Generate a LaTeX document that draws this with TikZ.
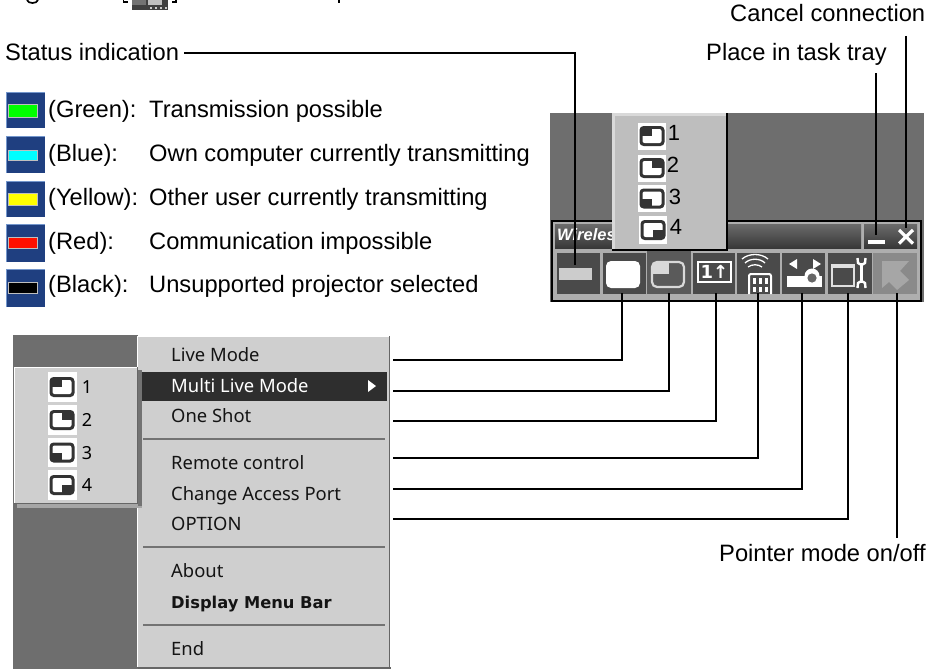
\documentclass[tikz,border=0pt]{standalone}
\usepackage{fontspec}
\setmainfont{Liberation Sans}
\newfontfamily\menufont{Noto Sans}
\newfontfamily\glyphfont{DejaVu Sans}
\definecolor{bgdark}{HTML}{6E6E6E}
\definecolor{swblue}{HTML}{1F3F80}
\definecolor{swedge}{HTML}{7396CC}
\definecolor{menubg}{HTML}{CFCFCF}
\definecolor{popbg}{HTML}{BEBEBE}
\definecolor{btndark}{HTML}{4A4A4A}
\definecolor{btnmid}{HTML}{5A5A5A}
\definecolor{btnlight}{HTML}{8A8A8A}
\definecolor{barbg}{HTML}{AEAEAE}
\definecolor{icdark}{HTML}{333333}
\definecolor{barcyan}{HTML}{00FFFF}
\definecolor{bargreen}{HTML}{00FF00}
\definecolor{baryellow}{HTML}{FFFF00}
\definecolor{barred}{HTML}{FF1000}
\tikzset{
  lbl/.style={anchor=base west,inner sep=0pt,font=\fontsize{23.7}{26}\selectfont},
  menuitem/.style={anchor=base west,inner sep=0pt,font=\menufont\fontsize{18.4}{22}\selectfont,text=black!92},
  popnum/.style={anchor=center,inner sep=0pt,font=\fontsize{22}{24}\selectfont},
  subnum/.style={anchor=center,inner sep=0pt,font=\menufont\fontsize{18}{22}\selectfont},
  wire/.style={draw=black,line width=2pt,line join=miter},
  sep/.style={draw=black!55,line width=1.4pt},
  btn/.style={fill=btndark,draw=none}
}
\newcommand{\qicon}[6]{% cx cy bghalfw bghalfh quadrant(xsign ysign)
  \fill[white] (#1-#3,#2-#4) rectangle (#1+#3,#2+#4);
  \fill[icdark,rounded corners=4pt] (#1-12.5,#2-10) rectangle (#1+12.5,#2+10);
  \fill[white,rounded corners=2pt] (#1-9.5,#2-7) rectangle (#1+9.5,#2+7);
  \fill[icdark] (#1,#2) rectangle (#1+#5*11,#2+#6*8.5);
}
\newcommand{\swatch}[5]{% top bottom bartop barbottom colour
  \fill[swblue] (6,#1) rectangle (45,#2);
  \draw[swedge,line width=1.2pt] (6.6,#2) -- (6.6,#1+.6) -- (45,#1+.6);
  \fill[white!75!black] (8,#3-1.2) rectangle (38,#4+1.2);
  \fill[#5] (9,#3) rectangle (36.6,#4);
}
\begin{document}
\begin{tikzpicture}[x=1pt,y=-1pt]
\useasboundingbox (0,0) rectangle (936,669);
\fill[white] (0,0) rectangle (936,669);

% fragments of the cropped line at the top edge
\begin{scope}
\clip (0,0) rectangle (936,669);
\draw[black,line width=1.7pt] (27,0) .. controls (28,4) and (37,4) .. (38,0);
\draw[black,line width=1.6pt] (123.5,0) -- (123.5,2.2) -- (128,2.2);
\draw[black,line width=1.6pt] (176,0) -- (176,2.2) -- (172,2.2);
\fill[black] (338,0) rectangle (340,3);
\fill[black!75] (132,0) rectangle (168,10.5);
\fill[black!55] (132,0) rectangle (146,5);
\fill[black!25] (148,0) rectangle (162,5);
\foreach \i in {150,155,160,165} \fill[white!80!black] (\i,7) rectangle (\i+2,9);
\end{scope}

% top labels
\node[lbl] (status) at (5,60) {Status indication};
\node[lbl] (cancel) at (730,22) {Cancel connection};
\node[lbl] (tray) at (706,60) {Place in task tray};
\node[lbl] (pointer) at (719,561.5) {Pointer mode on/off};

% swatches
\swatch{92}{128}{105}{117}{bargreen}
\swatch{136}{173}{151}{160}{barcyan}
\swatch{181}{217}{194}{205}{baryellow}
\swatch{224}{262}{238}{248}{barred}
\swatch{269}{307}{283}{293}{black}
\node[lbl] (lgreen) at (48,117) {(Green):};
\node[lbl] (tgreen) at (149,117) {Transmission possible};
\node[lbl] (lblue) at (48,161) {(Blue):};
\node[lbl] (tblue) at (149,161) {Own computer currently transmitting};
\node[lbl] (lyellow) at (48,205) {(Yellow):};
\node[lbl] (tyellow) at (149,205) {Other user currently transmitting};
\node[lbl] (lred) at (48,249) {(Red):};
\node[lbl] (tred) at (149,249) {Communication impossible};
\node[lbl] (lblack) at (48,292) {(Black):};
\node[lbl] (tblack) at (149,292) {Unsupported projector selected};

% toolbar window
\fill[bgdark] (550,113) rectangle (924,302);
\fill[barbg] (552,221) rectangle (920,301);
\shade[top color=black!58,bottom color=black!78] (555,224) rectangle (861,248);
\shade[top color=black!58,bottom color=black!78] (864,224) rectangle (917,248);
\draw[black,line width=2pt] (552,221) rectangle (920.5,301);
\node[anchor=base west,inner sep=0pt,text=white,font=\bfseries\itshape\fontsize{16.5}{18}\selectfont] (wtitle) at (557,240) {Wireles};
\fill[white] (868,240) rectangle (885,243.5);
\draw[white,line width=3.2pt] (899,230) -- (913,243.5) (913,230) -- (899,243.5);

% buttons
\node[btn,minimum width=43pt,minimum height=41pt,inner sep=0pt] (b0) at (578.5,273) {};
\node[btn,minimum width=43pt,minimum height=41pt,inner sep=0pt] (b1) at (624,273) {};
\node[fill=btnmid,minimum width=44pt,minimum height=43pt,inner sep=0pt] (b2) at (669,272.5) {};
\node[btn,minimum width=42pt,minimum height=41pt,inner sep=0pt] (b3) at (714,273) {};
\node[btn,minimum width=43pt,minimum height=41pt,inner sep=0pt] (b4) at (758.5,273) {};
\node[btn,minimum width=43pt,minimum height=41pt,inner sep=0pt] (b5) at (803.5,273) {};
\node[btn,minimum width=44pt,minimum height=41pt,inner sep=0pt] (b6) at (850,273) {};
\node[fill=btnlight,minimum width=44pt,minimum height=41pt,inner sep=0pt] (b7) at (895,273) {};
% b0 status bar
\fill[black!20] (559,268) rectangle (592,280);
% b1 white
\fill[white,rounded corners=5pt] (606,261) rectangle (640,288);
% b2 quadrant icon
\draw[black!15,line width=2.2pt,rounded corners=5pt] (652,262) rectangle (684,287);
\fill[black!15] (653,263) -- (669,263) -- (669,274) -- (653,274) -- cycle;
% b3 one-up icon
\draw[white,line width=2pt] (698,262) rectangle (731,282);
\node[inner sep=0pt,text=white,font=\glyphfont\bfseries\fontsize{18}{18}\selectfont] (oneup) at (714.5,272) {1↑};
% b4 remote with wireless arcs
\draw[white,line width=1.3pt] (745,263) .. controls (750,258) and (760,258) .. (765,263);
\draw[white,line width=1.3pt] (742,259) .. controls (749,253) and (761,253) .. (768,259);
\draw[white,line width=1.3pt] (748,267) .. controls (752,264) and (758,264) .. (762,267);
\draw[white,line width=2pt,rounded corners=2pt] (749,294) -- (749,274) -- (771,274) -- (771,294);
\foreach \a in {754,760,766} {\fill[white] (\a-1.5,278) rectangle (\a+1.5,284); \fill[white] (\a-1.5,287) rectangle (\a+1.5,292);}
% b5 projector
\fill[white] (789,264) -- (797,259) -- (797,269) -- cycle;
\fill[white] (821,264) -- (813,259) -- (813,269) -- cycle;
\fill[white] (787,276) rectangle (822,287);
\fill[white] (812,276) circle (7.5pt);
\fill[black!60] (812,278) circle (4.6pt);
% b6 window and wrench
\draw[black!12,line width=1.8pt] (832,265) rectangle (854,286);
\fill[black!12] (832,264) rectangle (854,268);
\draw[white,line width=3.4pt] (861.5,263) -- (861.5,283);
\draw[white,line width=2.4pt] (857.5,258) -- (858,263) -- (861.5,265) -- (865,263) -- (865.5,258);
\draw[white,line width=2.4pt] (857.5,288) -- (858,283) -- (861.5,281) -- (865,283) -- (865.5,288);
% b7 pointer
\fill[black!35] (882,261) -- (909,261) -- (900,271) -- (909,280) -- (897,290) -- (889,282) -- (882,288) -- cycle;

% popup over toolbar
\fill[black] (612,113) rectangle (728,250.5);
\fill[white!85!black] (612,113) rectangle (726,248.5);
\fill[popbg] (614.5,115.5) rectangle (725.5,248.5);
\qicon{652}{136}{14}{13.5}{-1}{-1}
\qicon{652}{168}{14}{13.5}{1}{-1}
\qicon{652}{198.5}{14}{13.5}{-1}{1}
\qicon{653}{230}{14}{14}{1}{1}
\node[popnum] (p1) at (674,133) {1};
\node[popnum] (p2) at (673,165) {2};
\node[popnum] (p3) at (675,197) {3};
\node[popnum] (p4) at (676,227) {4};

% menu background
\fill[bgdark] (13,335) rectangle (138,669);
\fill[black!60] (138,667) rectangle (391,668.5);
\fill[menubg] (137,336) rectangle (390,668);
\draw[white,line width=1.2pt] (137.6,668) -- (137.6,336.6) -- (390,336.6);
\draw[black!60,line width=1.4pt] (389.5,336) -- (389.5,667.5) -- (137,667.5);
\fill[black!82] (141,372) rectangle (387,401);
\draw[sep] (143,439) -- (385,439);
\draw[sep] (143,547) -- (385,547);
\draw[sep] (143,625) -- (385,625);
\node[menuitem] (mLive) at (171,361.5) {Live Mode};
\node[menuitem,text=white] (mMulti) at (171,392) {Multi Live Mode};
\node[menuitem] (mShot) at (171,422) {One Shot};
\node[menuitem] (mRemote) at (171,469.5) {Remote control};
\node[menuitem] (mPort) at (171,500) {Change Access Port};
\node[menuitem] (mOption) at (171,530.5) {OPTION};
\node[menuitem] (mAbout) at (171,577.5) {About};
\node[menuitem,font=\glyphfont\bfseries\fontsize{16.3}{22}\selectfont] (mBar) at (171,608.5) {Display Menu Bar};
\node[menuitem] (mEnd) at (171,655.5) {End};
\fill[white] (368,380) -- (376,386) -- (368,392) -- cycle;

% submenu
\fill[black!35] (17,503) rectangle (142,508);
\fill[black!55] (138,370) rectangle (142,506);
\fill[menubg] (14,367) rectangle (138,503);
\draw[white,line width=1.2pt] (14.6,503) -- (14.6,367.6) -- (138,367.6);
\draw[black!60,line width=1.2pt] (137.6,367) -- (137.6,503.4) -- (14,503.4);
\qicon{62}{387}{14.5}{15}{-1}{-1}
\qicon{62}{420}{14.5}{15}{1}{-1}
\qicon{62}{452.5}{14.5}{14.5}{-1}{1}
\qicon{62}{485}{14.5}{15}{1}{1}
\node[subnum] (s1) at (87,387) {1};
\node[subnum] (s2) at (87,420) {2};
\node[subnum] (s3) at (87,453) {3};
\node[subnum] (s4) at (87,485) {4};

% connector ends
\coordinate (cStatus) at (184,53.5);
\coordinate (tStatus) at (575,265);
\coordinate (cCancel) at (905.5,36);
\coordinate (tCancel) at (905.5,228);
\coordinate (cTray) at (875.5,73);
\coordinate (tTray) at (875.5,235);
\coordinate (cLive) at (393,360);
\coordinate (tLive) at (622,293);
\coordinate (cMulti) at (393,391);
\coordinate (tMulti) at (669,293);
\coordinate (cShot) at (393,420.5);
\coordinate (tShot) at (716,293);
\coordinate (cRemote) at (393,458);
\coordinate (tRemote) at (758,293);
\coordinate (cPort) at (393,489);
\coordinate (tPort) at (802,293);
\coordinate (cOption) at (393,519);
\coordinate (tOption) at (848,293);
\coordinate (tPointer) at (897,293);
\coordinate (cPointer) at (897,538);

\draw[wire] (cStatus) -| (tStatus);
\draw[wire] (cCancel) -- (tCancel);
\draw[wire] (cTray) -- (tTray);
\draw[wire] (cLive) -| (tLive);
\draw[wire] (cMulti) -| (tMulti);
\draw[wire] (cShot) -| (tShot);
\draw[wire] (cRemote) -| (tRemote);
\draw[wire] (cPort) -| (tPort);
\draw[wire] (cOption) -| (tOption);
\draw[wire] (tPointer) -- (cPointer);
\end{tikzpicture}
\end{document}
